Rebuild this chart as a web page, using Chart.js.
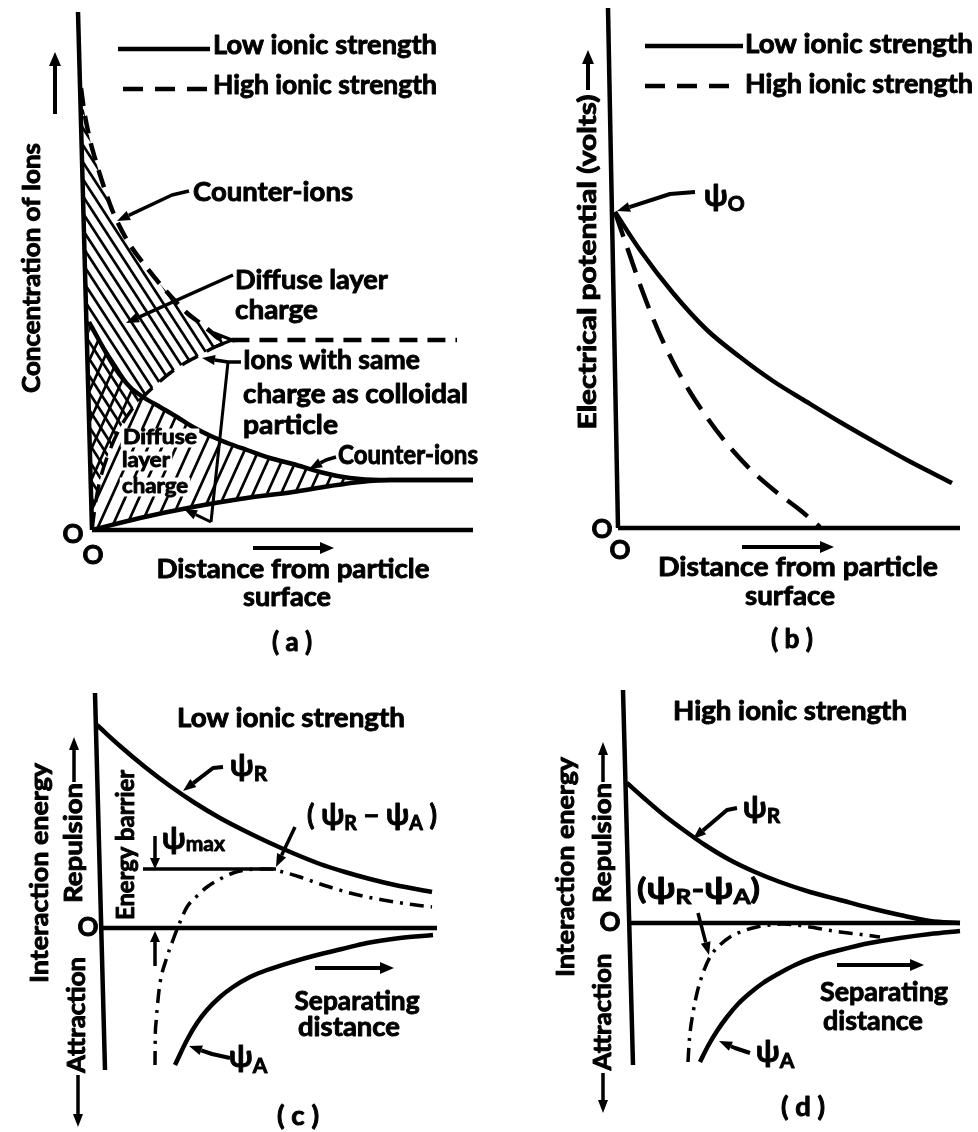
<!DOCTYPE html>
<html>
<head>
<meta charset="utf-8">
<script src="https://cdn.jsdelivr.net/npm/chart.js@4.4.1/dist/chart.umd.min.js"></script>
<style>
  html, body { margin: 0; padding: 0; background: #fff; }
  canvas { display: block; }
</style>
</head>
<body>
<canvas id="fig" width="978" height="1132"></canvas>
<script>
// ---- (a) Concentration of ions vs distance from particle surface (arbitrary units) ----
const aHighCounterDist = [-1.1, -0.8, -0.2, 0.5, 1.3, 2.1, 3.5, 5.5, 7.5, 9.5, 10.8, 11.8, 12.6, 13.8, 36.5];
const aHighCounterConc = [44.2, 42.0, 39.0, 36.5, 34.0, 31.8, 29.0, 26.2, 23.8, 21.7, 20.7, 19.9, 19.2, 19.0, 19.0];
const aHighCoDist = [0, 0.4, 0.8, 1.6, 2.8, 4.1, 5.1, 6.6, 7.8, 9.3, 10.8, 12.3, 13.6, 14.5];
const aHighCoConc = [0, 3.0, 5.0, 7.5, 10.2, 12.2, 13.3, 14.7, 15.7, 16.7, 17.5, 18.3, 18.8, 19.0];
const aLowCounterDist = [-0.3, 0.8, 2.3, 3.8, 5.1, 6.8, 8.5, 10.1, 12.1, 13.8, 15.5, 17.8, 20.1, 22.8, 25.8, 28.8, 38.1];
const aLowCounterConc = [20.8, 18.8, 16.2, 14.3, 13.3, 12.3, 11.3, 10.3, 9.3, 8.6, 8.0, 7.2, 6.6, 5.8, 5.2, 5.0, 5.0];
const aLowCoDist = [0, 4.8, 10.1, 14.8, 20.1, 23.8, 26.8, 29.8, 38.1];
const aLowCoConc = [0, 1.2, 2.3, 3.1, 3.8, 4.4, 4.8, 5.0, 5.0];
const aHighLayerEnd = 14;   // diffuse layer extent, high ionic strength
const aLowLayerEnd = 27;    // diffuse layer extent, low ionic strength

// ---- (b) Electrical potential vs distance ----
const psi0 = 31.6;
const bLowDist = [-0.3, 2.2, 5.5, 8.9, 12.2, 15.5, 18.9, 22.2, 25.5, 28.9, 33.4];
const bLowPot = [psi0, 27.8, 23.5, 19.8, 17.1, 14.7, 12.6, 10.6, 8.7, 6.8, 4.5];
const bHighDist = [-0.3, 1.0, 2.4, 3.9, 5.5, 7.2, 9.0, 11.0, 13.2, 15.7, 18.2, 20.2];
const bHighPot = [psi0, 27.8, 23.8, 20.0, 16.6, 13.6, 10.9, 8.3, 5.9, 3.7, 1.8, 0.1];

// ---- (c) Interaction energy, low ionic strength ----
const cRepDist = [-0.3, 2.0, 4.5, 7.0, 9.5, 12.0, 14.5, 17.0, 19.5, 22.0, 24.5, 27.0, 29.5, 33.2];
const cRepE = [20.3, 18.2, 16.1, 14.2, 12.5, 11.0, 9.7, 8.5, 7.4, 6.4, 5.6, 4.9, 4.3, 3.6];
const cAttDist = [7.5, 8.7, 9.7, 10.7, 12.0, 13.3, 15.0, 16.7, 19.2, 21.7, 24.2, 26.7, 30.0, 33.3];
const cAttE = [-13.7, -11.2, -9.5, -8.2, -6.9, -5.9, -4.9, -4.2, -3.4, -2.7, -2.1, -1.5, -1.0, -0.7];
const cNetDist = [5.5, 5.52, 5.6, 5.8, 6.0, 6.6, 7.3, 8.0, 8.7, 9.7, 10.7, 12.0, 13.3, 14.5, 15.7, 17.0, 18.3, 20.0, 21.7, 23.3, 25.0, 26.7, 28.3, 30.8, 33.2];
const cNetE = [-13.7, -11.2, -9.5, -7.2, -5.5, -3.2, -1.2, 0.6, 2.1, 3.2, 4.1, 4.9, 5.5, 5.8, 5.9, 5.9, 5.6, 5.1, 4.5, 4.0, 3.5, 3.1, 2.8, 2.4, 2.1];
const cBarrierDist = [4.3, 17.6];   // span of the psi-max marker line

// ---- (d) Interaction energy, high ionic strength ----
const dRepDist = [-0.1, 1.7, 3.7, 5.7, 7.7, 10.2, 12.7, 15.2, 18.2, 21.2, 24.2, 27.2, 30.2, 33.2];
const dRepE = [14.0, 12.4, 10.7, 9.2, 7.8, 6.3, 5.1, 4.1, 3.1, 2.3, 1.5, 0.8, 0.2, 0.0];
const dAttDist = [7.2, 8.0, 8.9, 9.9, 11.0, 12.2, 13.5, 15.0, 16.7, 18.7, 21.2, 24.2, 27.2, 30.2, 33.2];
const dAttE = [-13.9, -12.3, -10.8, -9.4, -8.1, -7.0, -6.0, -5.1, -4.2, -3.4, -2.7, -2.0, -1.5, -1.1, -0.8];
const dNetDist = [6.0, 6.1, 6.2, 6.5, 6.9, 7.5, 8.2, 9.2, 10.2, 11.5, 12.9, 14.2, 15.5, 16.9, 18.2, 19.9, 21.2, 22.9, 24.5, 25.2];
const dNetE = [-13.9, -12.2, -11.0, -9.0, -7.0, -5.0, -3.4, -2.2, -1.4, -0.8, -0.4, -0.2, -0.1, -0.2, -0.4, -0.7, -0.9, -1.1, -1.3, -1.4];

// Axis frames of each panel, in panel units
const frames = {
  a: { yAxis: [[-1.4, 51.8], [0, 0]], xAxis: [[0, 0], [38.1, 0]] },
  b: { yAxis: [[-1.0, 52.0], [0, 0]], xAxis: [[0, 0], [34.2, 0]] },
  c: { yAxis: [[-0.5, 23.5], [0.5, -14.2]], xAxis: [[0, 0], [33.7, 0]] },
  d: { yAxis: [[-0.5, 23.3], [0.5, -14.2]], xAxis: [[0, 0], [33.2, 0]] }
};

const FONT = "Lato, 'DejaVu Sans', sans-serif";
const WEIGHT = 'bold';
const INK = '#000';

const canvas = document.getElementById('fig');
const ctx0 = canvas.getContext('2d');

// Repeating diagonal hatch: dir > 0 rises to the right, dir < 0 falls to the right
function makeHatch(w, h, dir, lw) {
  const c = document.createElement('canvas');
  c.width = w; c.height = h;
  const g = c.getContext('2d');
  g.strokeStyle = INK; g.lineWidth = lw;
  for (let k = -2; k <= 2; k++) {
    g.beginPath();
    if (dir > 0) { g.moveTo(k * w - w, 2 * h); g.lineTo(k * w + 2 * w, -h); }
    else { g.moveTo(k * w - w, -h); g.lineTo(k * w + 2 * w, 2 * h); }
    g.stroke();
  }
  return ctx0.createPattern(c, 'repeat');
}
const hatchHigh = makeHatch(11, 17, -1, 2.7);
const hatchLow = makeHatch(14, 31, 1, 2.7);

const ptsOf = (xs, ys) => xs.map((x, i) => ({ x, y: ys[i] }));

function curve(p, xs, ys, extra) {
  return Object.assign({
    data: ptsOf(xs, ys), xAxisID: 'x' + p, yAxisID: 'y' + p,
    showLine: true, pointRadius: 0, borderColor: INK, borderWidth: 4.5,
    cubicInterpolationMode: 'monotone', fill: false, clip: false, order: 1
  }, extra || {});
}
function region(p, pts, pattern) {
  return {
    data: pts, xAxisID: 'x' + p, yAxisID: 'y' + p,
    showLine: true, pointRadius: 0, borderColor: 'rgba(0,0,0,0)', borderWidth: 0,
    backgroundColor: pattern, fill: 'shape', tension: 0.3, clip: false, order: 5
  };
}

const aHighLayer = [
  ...ptsOf(aHighCounterDist, aHighCounterConc).filter(p => p.x <= aHighLayerEnd),
  ...ptsOf(aHighCoDist, aHighCoConc).reverse()
];
const aLowLayer = [
  ...ptsOf(aLowCounterDist, aLowCounterConc).filter(p => p.x <= aLowLayerEnd),
  ...ptsOf(aLowCoDist, aLowCoConc).filter(p => p.x <= aLowLayerEnd).reverse()
];
const cPsiMax = Math.max(...cNetE);

const DASH = [18, 10];
const DASHDOT = [14, 7, 3, 7];

const datasets = [
  region('a', aHighLayer, hatchHigh),
  region('a', aLowLayer, hatchLow),
  curve('a', aHighCounterDist, aHighCounterConc, { borderDash: DASH }),
  curve('a', aHighCoDist, aHighCoConc, { borderDash: DASH, borderWidth: 3.5 }),
  curve('a', aLowCounterDist, aLowCounterConc),
  curve('a', aLowCoDist, aLowCoConc),
  curve('b', bLowDist, bLowPot),
  curve('b', bHighDist, bHighPot, { borderDash: [26, 12] }),
  curve('c', cRepDist, cRepE),
  curve('c', cAttDist, cAttE),
  curve('c', cNetDist, cNetE, { borderDash: DASHDOT, borderWidth: 3.5 }),
  curve('c', cBarrierDist, cBarrierDist.map(() => cPsiMax), { borderWidth: 3.5 }),
  curve('d', dRepDist, dRepE),
  curve('d', dAttDist, dAttE),
  curve('d', dNetDist, dNetE, { borderDash: DASHDOT, borderWidth: 3.5 })
];

// ---------- drawing helpers for annotations ----------
// Lettering is filled and lightly outlined to give the heavy drafting weight
function ink(ctx, s, x, y) {
  ctx.fillStyle = INK;
  ctx.strokeStyle = INK;
  ctx.lineWidth = 0.9;
  ctx.lineJoin = 'round';
  ctx.fillText(s, x, y);
  ctx.strokeText(s, x, y);
}
function text(ctx, s, x, y, o) {
  o = o || {};
  const size = o.size || 26;
  ctx.save();
  ctx.font = `${WEIGHT} ${size}px ${FONT}`;
  const m = ctx.measureText(s).width;
  const sx = o.w ? o.w / m : 1;
  ctx.translate(x, y);
  if (o.rot) ctx.rotate(o.rot);
  ctx.scale(sx, 1);
  ctx.textAlign = o.align || 'left';
  ctx.textBaseline = 'middle';
  if (o.knock) {
    const hgt = size * 0.95;
    const x0 = (o.align === 'center') ? -m / 2 : 0;
    ctx.fillStyle = '#fff';
    ctx.fillRect(x0 - 2, -hgt / 2, m + 4, hgt);
  }
  ink(ctx, s, 0, 0);
  ctx.restore();
}
// Pieces of a math label: [string, size, dy]; x = left, y = baseline
function expr(ctx, parts, x, y, w) {
  ctx.save();
  ctx.textBaseline = 'alphabetic';
  let total = 0;
  const ws = parts.map(p => { ctx.font = `${WEIGHT} ${p[1]}px ${FONT}`; const m = ctx.measureText(p[0]).width; total += m; return m; });
  const sx = w ? w / total : 1;
  ctx.translate(x, y);
  ctx.scale(sx, 1);
  let cx = 0;
  parts.forEach((p, i) => { ctx.font = `${WEIGHT} ${p[1]}px ${FONT}`; ink(ctx, p[0], cx, p[2]); cx += ws[i]; });
  ctx.restore();
}
function line(ctx, pts, lw, dash) {
  ctx.save();
  ctx.strokeStyle = INK; ctx.lineWidth = lw || 3; ctx.lineCap = 'butt'; ctx.lineJoin = 'round';
  ctx.setLineDash(dash || []);
  ctx.beginPath();
  pts.forEach((p, i) => i ? ctx.lineTo(p[0], p[1]) : ctx.moveTo(p[0], p[1]));
  ctx.stroke();
  ctx.restore();
}
function arrow(ctx, pts, lw, head, half) {
  head = head || 13; half = half || 5;
  const [x1, y1] = pts[pts.length - 1];
  const [x0, y0] = pts[pts.length - 2];
  const a = Math.atan2(y1 - y0, x1 - x0);
  const bx = x1 - head * Math.cos(a), by = y1 - head * Math.sin(a);
  const shaft = pts.slice(0, -1).concat([[bx, by]]);
  line(ctx, shaft, lw || 3);
  ctx.save();
  ctx.fillStyle = INK;
  ctx.beginPath();
  ctx.moveTo(x1, y1);
  ctx.lineTo(bx + half * Math.sin(a), by - half * Math.cos(a));
  ctx.lineTo(bx - half * Math.sin(a), by + half * Math.cos(a));
  ctx.closePath();
  ctx.fill();
  ctx.restore();
}
const UP = -Math.PI / 2;
const psi = 'ψ';

const frameAxes = {
  id: 'frameAxes',
  beforeDatasetsDraw(chart) {
    const ctx = chart.ctx;
    Object.keys(frames).forEach(p => {
      const sx = chart.scales['x' + p], sy = chart.scales['y' + p];
      const toPx = q => [sx.getPixelForValue(q[0]), sy.getPixelForValue(q[1])];
      line(ctx, frames[p].yAxis.map(toPx), 4.5);
      line(ctx, frames[p].xAxis.map(toPx), 4.5);
    });
  }
};

const notes = {
  id: 'notes',
  afterDatasetsDraw(chart) {
    const ctx = chart.ctx;

    // ---------------- (a) ----------------
    line(ctx, [[118, 49], [210, 49]], 4.5);
    text(ctx, 'Low ionic strength', 213, 46, { w: 224 });
    line(ctx, [[123, 89], [210, 89]], 4.5, [20, 12]);
    text(ctx, 'High ionic strength', 213, 86, { w: 224 });
    text(ctx, 'Concentration of Ions', 32, 268, { w: 250, size: 24, rot: UP, align: 'center' });
    arrow(ctx, [[55, 114], [55, 52]], 4, 14, 6);

    text(ctx, 'Counter-ions', 193, 193, { w: 160 });
    arrow(ctx, [[189, 191], [172, 195], [117, 221]], 3.5);
    text(ctx, 'Diffuse layer', 235, 281, { w: 153 });
    text(ctx, 'charge', 235, 311, { w: 83 });
    arrow(ctx, [[233, 275], [126, 323]], 3.5);
    line(ctx, [[209, 331], [232, 340], [212, 348]], 3);

    text(ctx, 'Ions with same', 243, 361, { w: 177 });
    text(ctx, 'charge as colloidal', 243, 395, { w: 225 });
    text(ctx, 'particle', 243, 426, { w: 95 });
    line(ctx, [[241, 362], [228, 362]], 3.5);
    arrow(ctx, [[228, 362], [202, 358]], 3.5);
    line(ctx, [[228, 362], [211, 522]], 3);
    arrow(ctx, [[211, 522], [184, 509]], 3);

    text(ctx, 'Counter-ions', 338, 456, { w: 140 });
    arrow(ctx, [[336, 457], [326, 460], [309, 469]], 3.5);

    text(ctx, 'Diffuse', 123, 438, { w: 74, size: 20, knock: true });
    text(ctx, 'layer', 122, 461, { w: 48, size: 20, knock: true });
    text(ctx, 'charge', 122, 487, { w: 66, size: 20, knock: true });

    text(ctx, 'O', 73, 535, { size: 26, align: 'center' });
    text(ctx, 'O', 93, 556, { size: 26, align: 'center' });
    arrow(ctx, [[253, 548], [334, 548]], 4, 14, 6);
    text(ctx, 'Distance from particle', 293, 570, { w: 273, align: 'center' });
    text(ctx, 'surface', 287, 598, { w: 88, align: 'center' });
    text(ctx, '( a )', 292, 643, { w: 40, align: 'center' });

    // ---------------- (b) ----------------
    line(ctx, [[645, 46], [743, 46]], 4.5);
    text(ctx, 'Low ionic strength', 745, 45, { w: 228 });
    line(ctx, [[645, 86], [737, 86]], 4.5, [20, 12]);
    text(ctx, 'High ionic strength', 745, 85, { w: 228 });
    text(ctx, 'Electrical potential (volts)', 588, 262, { w: 335, size: 24, rot: UP, align: 'center' });
    arrow(ctx, [[588, 90], [588, 50]], 4, 14, 6);
    expr(ctx, [[psi, 30, 0], ['O', 21, 5]], 704, 206);
    arrow(ctx, [[695, 192], [670, 194], [617, 211]], 4);
    text(ctx, 'O', 602, 530, { size: 26, align: 'center' });
    text(ctx, 'O', 620, 551, { size: 26, align: 'center' });
    arrow(ctx, [[742, 547], [834, 547]], 4, 14, 6);
    text(ctx, 'Distance from particle', 798, 568, { w: 280, align: 'center' });
    text(ctx, 'surface', 790, 597, { w: 90, align: 'center' });
    text(ctx, '( b )', 792, 640, { w: 42, align: 'center' });

    // ---------------- (c) ----------------
    text(ctx, 'Low ionic strength', 291, 719, { w: 228, align: 'center' });
    text(ctx, 'Interaction energy', 40, 873, { w: 220, size: 24, rot: UP, align: 'center' });
    text(ctx, 'Repulsion', 74, 843, { w: 120, size: 24, rot: UP, align: 'center' });
    arrow(ctx, [[74, 782], [74, 737]], 3.5, 13, 5);
    text(ctx, 'Attraction', 77, 1015, { w: 116, size: 24, rot: UP, align: 'center' });
    arrow(ctx, [[78, 1075], [78, 1127]], 3.5, 13, 5);
    text(ctx, 'O', 88, 928, { size: 26, align: 'center' });
    text(ctx, 'Energy barrier', 126, 845, { w: 150, size: 24, rot: UP, align: 'center' });
    expr(ctx, [[psi, 30, 0], ['max', 21, 2]], 162, 849);
    arrow(ctx, [[155, 836], [155, 869]], 3.5, 11, 5);
    arrow(ctx, [[155, 966], [155, 931]], 3.5, 11, 5);
    arrow(ctx, [[223, 767], [213, 768], [183, 791]], 4);
    expr(ctx, [[psi, 30, 0], ['R', 21, 5]], 230, 776);
    expr(ctx, [['( ', 28, 0], [psi, 30, 0], ['R', 20, 5], [' − ', 28, 0], [psi, 30, 0], ['A', 20, 5], [' )', 28, 0]], 307, 825, 130);
    arrow(ctx, [[295, 827], [276, 867]], 3.5);
    arrow(ctx, [[230, 1058], [212, 1054], [189, 1046]], 4);
    expr(ctx, [[psi, 30, 0], ['A', 21, 6]], 229, 1067);
    arrow(ctx, [[315, 968], [394, 968]], 4, 14, 6);
    text(ctx, 'Separating', 357, 1002, { w: 125, align: 'center' });
    text(ctx, 'distance', 349, 1028, { w: 102, align: 'center' });
    text(ctx, '( c )', 298, 1117, { w: 42, align: 'center' });

    // ---------------- (d) ----------------
    text(ctx, 'High ionic strength', 790, 712, { w: 234, align: 'center' });
    text(ctx, 'Interaction energy', 566, 867, { w: 220, size: 24, rot: UP, align: 'center' });
    text(ctx, 'Repulsion', 603, 843, { w: 120, size: 24, rot: UP, align: 'center' });
    arrow(ctx, [[603, 782], [603, 742]], 3.5, 13, 5);
    text(ctx, 'Attraction', 603, 1012, { w: 117, size: 24, rot: UP, align: 'center' });
    arrow(ctx, [[603, 1073], [603, 1113]], 3.5, 13, 5);
    text(ctx, 'O', 610, 923, { size: 26, align: 'center' });
    arrow(ctx, [[737, 808], [727, 810], [693, 839]], 4);
    expr(ctx, [[psi, 30, 0], ['R', 21, 5]], 743, 818);
    expr(ctx, [['(', 28, 0], [psi, 30, 0], ['R', 20, 5], ['-', 28, 0], [psi, 30, 0], ['A', 20, 5], [')', 28, 0]], 637, 899, 123);
    arrow(ctx, [[698, 913], [709, 955]], 3.5);
    arrow(ctx, [[750, 1053], [735, 1048], [719, 1041]], 4);
    expr(ctx, [[psi, 30, 0], ['A', 21, 6]], 756, 1062);
    arrow(ctx, [[837, 965], [924, 965]], 4, 14, 6);
    text(ctx, 'Separating', 884, 993, { w: 128, align: 'center' });
    text(ctx, 'distance', 873, 1022, { w: 100, align: 'center' });
    text(ctx, '( d )', 803, 1108, { w: 44, align: 'center' });
  }
};

const hidden = (axis, min, max) => ({ type: 'linear', axis, min, max, display: false });

new Chart(ctx0, {
  type: 'scatter',
  data: { datasets },
  options: {
    responsive: false,
    animation: false,
    events: [],
    layout: { padding: 0 },
    plugins: { legend: { display: false }, tooltip: { enabled: false }, title: { display: false } },
    scales: {
      xa: hidden('x', -9.2, 88.6), ya: hidden('y', -60.2, 53.0),
      xb: hidden('x', -61.8, 36.0), yb: hidden('y', -60.4, 52.8),
      xc: hidden('x', -10.0, 87.8), yc: hidden('y', -20.4, 92.8),
      xd: hidden('x', -62.8, 35.0), yd: hidden('y', -20.9, 92.3)
    }
  },
  plugins: [frameAxes, notes]
});
</script>
</body>
</html>
